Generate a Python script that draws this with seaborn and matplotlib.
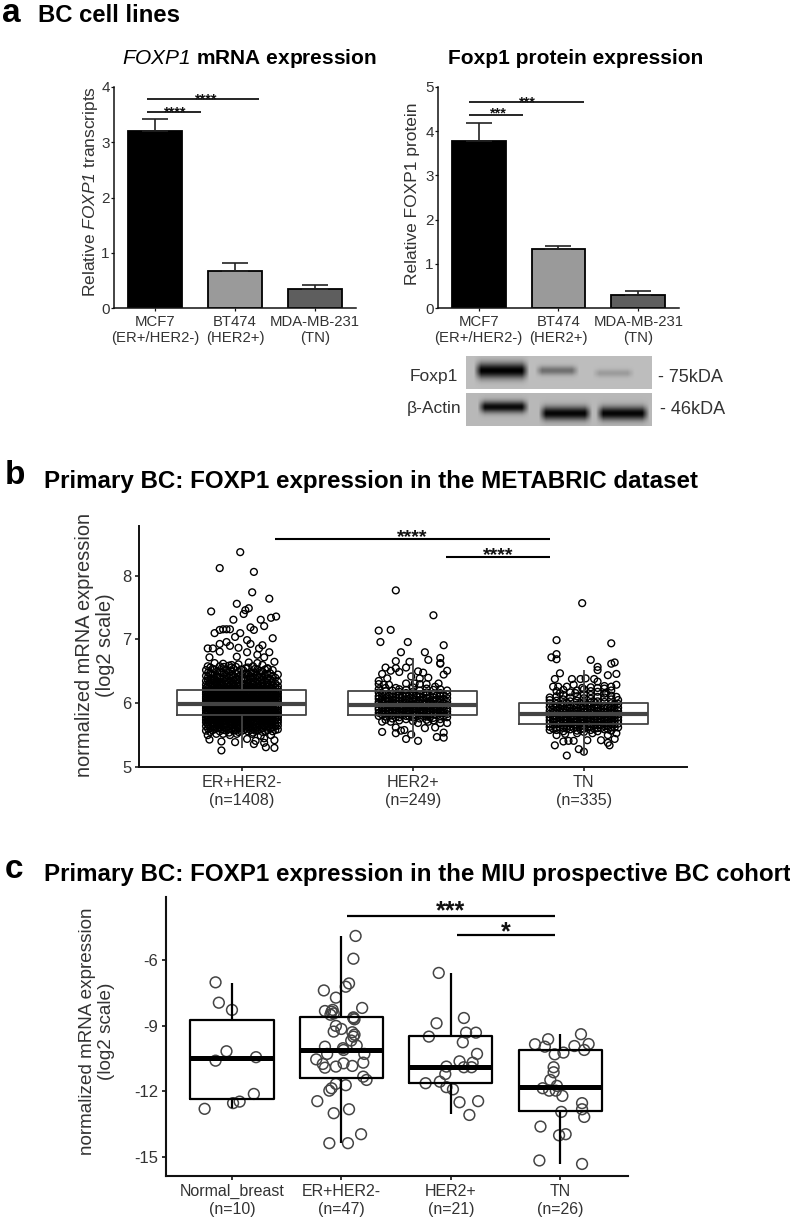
import numpy as np
import pandas as pd
import matplotlib
matplotlib.use("Agg")
import matplotlib.pyplot as plt
import seaborn as sns

sns.set_theme(style="ticks")
plt.rcParams['font.family'] = ['Liberation Sans', 'DejaVu Sans']
plt.rcParams['mathtext.fontset'] = 'custom'
plt.rcParams['mathtext.rm'] = 'Liberation Sans:italic'
plt.rcParams['mathtext.it'] = 'Liberation Sans:italic'
plt.rcParams['mathtext.bf'] = 'Liberation Sans:bold'

# ---------- panel a data ----------
line_cats = ["MCF7\n(ER+/HER2-)", "BT474\n(HER2+)", "MDA-MB-231\n(TN)"]
mrna_mean = [3.20, 0.67, 0.34]
mrna_err = [0.22, 0.15, 0.08]
prot_mean = [3.78, 1.34, 0.30]
prot_err = [0.40, 0.06, 0.08]
bar_colors = ["#000000", "#9a9a9a", "#5e5e5e"]

# ---------- panel b data ----------
b_groups = ["ER+HER2-", "HER2+", "TN"]
b_labels = ["ER+HER2-\n(n=1408)", "HER2+\n(n=249)", "TN\n(n=335)"]
b_box_er = [5.30, 5.82, 5.995, 6.20, 6.57]
b_box_her2 = [5.45, 5.81, 5.98, 6.19, 6.71]
b_box_tn = [5.19, 5.68, 5.83, 6.01, 6.52]

b_er_off = [-.01,-.13,.07,.06,.16,-.03,.04,-.18,.02,.01,-.05,.11,.17,.20,.13,.05,.07,-.16,-.13,-.11,-.09,-.07,-.01,-.04,.18,
            .03,.05,.12,-.09,-.13,-.20,-.07,-.02,.10,.16,-.17,.03,-.13,.09,-.19,-.03,.13,.19,-.20,-.16,-.11,-.06,.04,.09,.15,
            -.12,.19,.14,-.04,-.12,.07,-.19,.19,.13,.08,.03,-.20,-.07,.13,-.15,-.11,-.03,.06,.17,.11]
b_er_val = [8.37,8.12,8.06,7.74,7.64,7.56,7.49,7.44,7.46,7.40,7.31,7.31,7.34,7.36,7.21,7.19,7.15,7.10,7.15,7.16,7.16,7.16,7.10,7.04,7.02,
            6.99,6.93,6.91,6.96,6.93,6.86,6.90,6.87,6.86,6.80,6.86,6.80,6.81,6.76,6.72,6.73,6.72,6.65,6.58,6.63,6.62,6.60,6.64,6.63,6.55,
            5.26,5.30,5.31,5.39,5.40,5.36,5.43,5.42,5.38,5.41,5.44,5.50,5.50,5.45,5.52,5.52,5.52,5.52,5.50,5.49]
# dense core of the ER+HER2- cloud, estimated by vertical strip
er_strip_off = [-.21,-.185,-.16,-.13,-.105,-.075,-.05,-.02,.01,.035,.065,.09,.12,.15,.18,.21]
er_strip_val = [
 [5.57,5.64,5.70,5.74,5.78,5.82,5.85,5.89,5.92,5.95,5.98,6.01,6.04,6.07,6.10,6.14,6.17,6.20,6.24,6.29,6.35,6.43,6.52],
 [5.55,5.61,5.67,5.72,5.76,5.80,5.83,5.87,5.90,5.94,5.97,6.00,6.03,6.06,6.09,6.12,6.15,6.19,6.22,6.27,6.33,6.38,6.47,6.56],
 [5.59,5.65,5.69,5.73,5.77,5.81,5.84,5.88,5.91,5.93,5.96,5.99,6.02,6.05,6.08,6.11,6.14,6.18,6.21,6.25,6.30,6.37,6.44,6.53],
 [5.56,5.62,5.68,5.71,5.75,5.79,5.82,5.86,5.89,5.92,5.95,5.98,6.01,6.04,6.07,6.10,6.13,6.16,6.20,6.24,6.28,6.34,6.41,6.50,6.58],
 [5.58,5.63,5.66,5.72,5.76,5.80,5.84,5.87,5.90,5.93,5.97,6.00,6.03,6.06,6.09,6.12,6.15,6.18,6.22,6.26,6.31,6.39,6.46,6.57],
 [5.54,5.60,5.67,5.70,5.74,5.78,5.81,5.85,5.88,5.91,5.94,5.97,6.00,6.02,6.05,6.08,6.11,6.15,6.19,6.23,6.27,6.32,6.40,6.48,6.59],
 [5.57,5.63,5.69,5.73,5.77,5.80,5.83,5.86,5.89,5.92,5.96,5.99,6.02,6.05,6.07,6.10,6.13,6.17,6.21,6.25,6.30,6.36,6.43,6.54],
 [5.55,5.61,5.66,5.71,5.75,5.79,5.82,5.85,5.88,5.91,5.94,5.97,6.00,6.03,6.06,6.09,6.12,6.16,6.20,6.26,6.33,6.42,6.49,6.61],
 [5.58,5.64,5.68,5.72,5.76,5.80,5.84,5.87,5.90,5.93,5.95,5.98,6.01,6.04,6.08,6.11,6.14,6.18,6.22,6.28,6.35,6.40,6.51],
 [5.56,5.62,5.67,5.71,5.74,5.78,5.81,5.85,5.88,5.92,5.95,5.99,6.02,6.05,6.08,6.12,6.15,6.19,6.23,6.27,6.32,6.38,6.45,6.56],
 [5.54,5.60,5.65,5.70,5.75,5.79,5.83,5.86,5.89,5.93,5.96,5.99,6.03,6.06,6.09,6.13,6.16,6.20,6.24,6.29,6.34,6.41,6.47,6.58],
 [5.57,5.63,5.69,5.73,5.77,5.80,5.84,5.87,5.91,5.94,5.97,6.00,6.04,6.07,6.10,6.13,6.17,6.21,6.25,6.30,6.36,6.44,6.53],
 [5.55,5.61,5.66,5.72,5.76,5.79,5.82,5.86,5.90,5.93,5.96,6.00,6.02,6.05,6.08,6.11,6.14,6.18,6.22,6.26,6.31,6.37,6.42,6.50,6.60],
 [5.58,5.64,5.68,5.71,5.75,5.78,5.82,5.85,5.88,5.91,5.94,5.98,6.01,6.04,6.07,6.10,6.14,6.17,6.21,6.26,6.32,6.39,6.46,6.54],
 [5.56,5.62,5.67,5.72,5.76,5.80,5.83,5.87,5.90,5.93,5.97,6.00,6.03,6.06,6.09,6.12,6.16,6.19,6.23,6.28,6.35,6.43,6.52],
 [5.59,5.65,5.70,5.74,5.78,5.81,5.85,5.88,5.92,5.95,5.98,6.02,6.05,6.08,6.11,6.15,6.18,6.22,6.27,6.34,6.45],
]
er_fill_off = [-.198,-.172,-.145,-.118,-.09,-.062,-.035,-.005,.022,.05,.078,.105,.135,.165,.195]
er_fill_val = [
 [5.60,5.66,5.71,5.75,5.79,5.84,5.88,5.93,5.96,6.00,6.05,6.09,6.13,6.18,6.23,6.28,6.36,6.41,6.48],
 [5.58,5.63,5.69,5.74,5.78,5.83,5.86,5.91,5.95,5.99,6.02,6.07,6.11,6.16,6.20,6.26,6.31,6.39,6.45,6.54],
 [5.61,5.67,5.72,5.76,5.80,5.85,5.89,5.92,5.97,6.01,6.06,6.10,6.15,6.19,6.24,6.29,6.34,6.42,6.50],
 [5.59,5.64,5.70,5.75,5.79,5.83,5.87,5.92,5.96,6.00,6.03,6.08,6.12,6.17,6.21,6.27,6.33,6.38,6.47,6.55],
 [5.57,5.62,5.68,5.73,5.77,5.82,5.86,5.90,5.94,5.98,6.04,6.08,6.13,6.18,6.23,6.30,6.36,6.44,6.52],
 [5.60,5.66,5.71,5.76,5.80,5.84,5.87,5.91,5.96,6.00,6.04,6.09,6.14,6.17,6.22,6.28,6.35,6.43,6.50,6.56],
 [5.58,5.64,5.69,5.74,5.78,5.81,5.85,5.90,5.93,5.97,6.01,6.06,6.11,6.15,6.19,6.24,6.31,6.37,6.46,6.57],
 [5.56,5.62,5.68,5.73,5.77,5.83,5.87,5.92,5.96,5.99,6.04,6.08,6.12,6.17,6.23,6.29,6.37,6.45,6.53],
 [5.60,5.65,5.70,5.74,5.78,5.82,5.86,5.90,5.94,5.97,6.02,6.07,6.10,6.16,6.20,6.25,6.30,6.39,6.46,6.55],
 [5.58,5.63,5.69,5.73,5.77,5.81,5.85,5.90,5.93,5.97,6.01,6.04,6.10,6.14,6.18,6.22,6.27,6.33,6.42,6.49],
 [5.57,5.62,5.67,5.72,5.78,5.82,5.85,5.89,5.94,5.98,6.03,6.07,6.11,6.15,6.19,6.25,6.32,6.40,6.48,6.54],
 [5.59,5.65,5.71,5.75,5.79,5.83,5.88,5.92,5.95,5.99,6.03,6.08,6.12,6.16,6.21,6.28,6.35,6.41,6.51],
 [5.56,5.63,5.68,5.74,5.78,5.81,5.84,5.89,5.92,5.98,6.02,6.06,6.11,6.15,6.20,6.24,6.29,6.36,6.44,6.53],
 [5.60,5.66,5.70,5.73,5.77,5.82,5.86,5.91,5.95,5.99,6.03,6.08,6.13,6.18,6.24,6.30,6.38,6.47],
 [5.58,5.64,5.69,5.75,5.80,5.84,5.89,5.93,5.97,6.01,6.05,6.09,6.14,6.19,6.25,6.31,6.40],
]

b_her2_off = [-.10,.12,-.20,-.13,-.19,-.03,.18,-.07,.07,.16,.09,-.10,.16,.16,-.02,.20,-.16,-.04,-.10,-.13,-.08,.18,-.18,.03,.06,-.15,.09,-.01,.04,-.20,-.17,-.14,.15,-.04,.08,.04,.01,.13,-.20,-.10,
              .03,-.04,-.18,.14,.18,.18,-.10,-.07,-.05,-.01,-.10,.07,.13,.09,-.18,-.13,.03,.20,.16]
b_her2_val = [7.77,7.38,7.14,7.15,6.96,6.96,6.91,6.80,6.80,6.71,6.68,6.66,6.63,6.62,6.65,6.51,6.56,6.56,6.55,6.51,6.49,6.45,6.46,6.50,6.48,6.39,6.40,6.42,6.39,6.35,6.29,6.29,6.31,6.31,6.30,6.30,6.31,6.26,6.30,6.24,
              5.41,5.44,5.55,5.47,5.46,5.54,5.53,5.57,5.58,5.51,5.62,5.61,5.62,5.71,5.71,5.71,5.69,5.69,5.69]
her2_strip_off = [-.20,-.16,-.12,-.08,-.04,.0,.04,.08,.12,.16,.20,-.18,-.14,-.10,-.06,-.02,.02,.06,.10,.14,.18]
her2_strip_val = [
 [5.80,5.85,5.90,5.93,5.99,6.02,6.07,6.11,6.17,6.22],
 [5.74,5.79,5.84,5.88,5.92,5.96,6.03,6.08,6.13,6.19,6.24],
 [5.76,5.81,5.86,5.89,5.94,5.97,6.00,6.05,6.10,6.15,6.20],
 [5.73,5.78,5.83,5.87,5.91,5.95,5.99,6.04,6.09,6.13,6.18,6.22],
 [5.75,5.80,5.85,5.88,5.92,5.97,6.01,6.06,6.11,6.16,6.21],
 [5.72,5.78,5.82,5.86,5.90,5.94,5.98,6.03,6.07,6.12,6.18,6.25],
 [5.76,5.81,5.84,5.89,5.93,5.96,6.00,6.05,6.10,6.14,6.20],
 [5.74,5.79,5.83,5.87,5.91,5.95,5.99,6.02,6.08,6.13,6.17,6.23],
 [5.73,5.77,5.82,5.86,5.90,5.94,5.98,6.04,6.09,6.15,6.21],
 [5.75,5.80,5.85,5.88,5.92,5.96,6.01,6.06,6.11,6.16,6.22],
 [5.78,5.83,5.87,5.91,5.97,6.02,6.08,6.14,6.20],
 [5.82,5.87,5.92,5.96,6.01,6.05,6.10,6.15],
 [5.80,5.84,5.88,5.93,5.98,6.03,6.07,6.12],
 [5.78,5.83,5.89,5.94,5.99,6.04,6.09,6.14],
 [5.81,5.85,5.90,5.95,6.00,6.05,6.11],
 [5.79,5.84,5.88,5.93,5.97,6.02,6.08,6.13],
 [5.82,5.86,5.91,5.95,6.00,6.06,6.12],
 [5.80,5.85,5.89,5.94,5.98,6.04,6.09,6.15],
 [5.78,5.83,5.87,5.92,5.97,6.03,6.10],
 [5.81,5.86,5.90,5.94,5.99,6.05,6.12],
 [5.80,5.85,5.90,5.95,6.00,6.06,6.13],
]

b_tn_off = [-.01,-.16,.16,-.16,-.19,-.16,.04,.16,.18,.08,.08,-.14,.19,.14,-.17,-.07,-.02,.01,.06,.08,.19,.12,-.18,-.10,-.06,-.15,.16,-.01,.04,.08,-.20,.19,-.14,-.05,.13,
            -.10,.0,-.03,-.17,.15,.14,-.12,-.09,-.06,.18,.02,.10,-.20,.19,-.16,-.11,-.04,.05,.14]
b_tn_val = [7.57,6.99,6.94,6.77,6.72,6.69,6.68,6.62,6.64,6.57,6.52,6.47,6.46,6.44,6.38,6.38,6.38,6.39,6.38,6.34,6.29,6.27,6.26,6.26,6.29,6.26,6.26,6.24,6.25,6.24,6.09,6.10,6.16,6.16,6.16,
            5.18,5.24,5.28,5.34,5.34,5.38,5.40,5.41,5.41,5.44,5.42,5.42,5.58,5.53,5.50,5.52,5.53,5.53,5.50]
tn_strip_off = [-.20,-.16,-.12,-.08,-.04,.0,.04,.08,.12,.16,.20,-.18,-.14,-.10,-.06,-.02,.02,.06,.10,.14,.18]
tn_strip_val = [
 [5.63,5.68,5.73,5.78,5.83,5.88,5.94,6.00,6.05],
 [5.58,5.62,5.67,5.71,5.76,5.80,5.84,5.89,5.94,5.99,6.04,6.11,6.19],
 [5.56,5.61,5.65,5.70,5.74,5.78,5.82,5.86,5.90,5.95,6.00,6.06,6.13,6.21],
 [5.59,5.63,5.68,5.72,5.76,5.80,5.84,5.87,5.92,5.97,6.03,6.09,6.17],
 [5.57,5.62,5.66,5.71,5.75,5.79,5.83,5.88,5.93,5.98,6.04,6.11,6.20],
 [5.55,5.60,5.65,5.69,5.74,5.78,5.82,5.86,5.91,5.96,6.02,6.08,6.14,6.22],
 [5.58,5.63,5.67,5.72,5.76,5.81,5.85,5.90,5.95,6.01,6.07,6.13,6.19],
 [5.56,5.61,5.66,5.70,5.75,5.79,5.83,5.88,5.92,5.97,6.03,6.10,6.18],
 [5.59,5.64,5.68,5.73,5.77,5.82,5.86,5.91,5.96,6.02,6.09,6.15,6.23],
 [5.57,5.62,5.67,5.71,5.76,5.80,5.84,5.89,5.94,6.00,6.06,6.12,6.20],
 [5.62,5.68,5.73,5.78,5.83,5.88,5.93,5.99,6.05],
 [5.60,5.66,5.71,5.75,5.80,5.85,5.90,5.96],
 [5.62,5.68,5.72,5.77,5.82,5.87,5.92,5.98],
 [5.60,5.64,5.69,5.74,5.79,5.83,5.89,5.95,6.01],
 [5.61,5.66,5.70,5.75,5.80,5.85,5.90,5.96],
 [5.59,5.64,5.69,5.73,5.78,5.83,5.88,5.94,6.00],
 [5.62,5.67,5.71,5.76,5.81,5.86,5.91,5.97],
 [5.60,5.65,5.70,5.74,5.79,5.84,5.89,5.95,6.02],
 [5.61,5.66,5.71,5.75,5.80,5.85,5.90,5.96],
 [5.59,5.64,5.69,5.74,5.79,5.83,5.88,5.94],
 [5.62,5.67,5.72,5.77,5.82,5.87,5.93,5.99],
]

# ---------- panel c data ----------
c_labels = ["Normal_breast\n(n=10)", "ER+HER2-\n(n=47)", "HER2+\n(n=21)", "TN\n(n=26)"]
c_box_normal = [-12.75, -12.36, -10.49, -8.74, -7.03]
c_box_er = [-14.37, -11.39, -10.11, -8.59, -4.90]
c_box_her2 = [-13.05, -11.63, -10.87, -9.47, -6.61]
c_box_tn = [-15.32, -12.90, -11.80, -10.12, -9.39]

c_normal_off = [-.15,-.12,.0,-.05,-.15,.22,.20,.07,.01,-.25]
c_normal_val = [-7.02,-7.95,-8.28,-10.17,-10.60,-10.44,-12.12,-12.47,-12.54,-12.80]
c_er_off = [.13,.11,.07,.04,-.16,-.05,.19,-.15,-.09,-.10,-.07,.11,.11,-.05,.0,-.07,.10,.12,.11,.09,.14,-.15,.02,.015,
            -.13,.21,-.23,.20,-.17,.02,-.15,-.05,.10,.20,.23,-.05,.04,-.09,-.11,-.22,.07,-.07,.18,-.11,.06,-.08,.12]
c_er_val = [-4.90,-5.94,-7.07,-7.22,-7.39,-7.72,-8.19,-8.33,-8.36,-8.50,-8.44,-8.66,-8.62,-9.01,-9.15,-9.27,-9.30,-9.41,-9.50,-9.68,-9.91,-9.96,-10.11,-10.03,
            -10.29,-10.29,-10.54,-10.69,-10.75,-10.72,-10.92,-10.87,-10.84,-11.33,-11.48,-11.66,-11.72,-11.86,-11.97,-12.45,-12.82,-13.00,-13.96,-14.37,-14.37,-8.28,-8.71]
c_her2_off = [-.11,.12,-.13,.14,.23,-.20,.11,.24,.08,.20,-.04,.12,.19,-.05,-.23,-.10,-.04,.02,.08,.25,.17]
c_her2_val = [-6.59,-8.65,-8.89,-9.32,-9.32,-9.50,-9.76,-10.29,-10.63,-10.69,-10.87,-10.90,-10.90,-11.21,-11.63,-11.56,-11.81,-11.91,-12.50,-12.45,-13.08]
c_tn_off = [-.23,-.11,-.14,.19,.13,.26,.22,-.05,.03,-.06,-.06,-.09,-.03,-.16,-.10,-.04,.02,.20,.20,.01,.22,-.18,-.01,.05,-.19,.20]
c_tn_val = [-9.85,-9.62,-9.96,-9.39,-9.93,-9.84,-10.11,-10.31,-10.23,-10.90,-11.13,-11.48,-11.75,-11.86,-11.97,-11.97,-12.21,-12.54,-12.82,-12.94,-13.17,-13.61,-14.01,-13.96,-15.16,-15.32]

# ---------- western blot band description (centre x, half width, centre y, half height, darkness) ----------
blot_foxp1 = [(0.19, 0.15, 0.44, 0.24, 0.74), (0.49, 0.12, 0.44, 0.14, 0.30), (0.795, 0.115, 0.52, 0.12, 0.13)]
blot_actin = [(0.20, 0.14, 0.42, 0.18, 0.68), (0.535, 0.145, 0.62, 0.21, 0.70), (0.845, 0.145, 0.62, 0.21, 0.70)]

W, H = 790, 1219
fig = plt.figure(figsize=(W / 100, H / 100), dpi=100)
GREY = "#333333"


def axpx(l, t, r, b):
    return fig.add_axes([l / W, 1 - b / H, (r - l) / W, (b - t) / H])


def txt(x, y, s, **kw):
    kw.setdefault("ha", "left")
    kw.setdefault("va", "center")
    return fig.text(x / W, 1 - y / H, s, **kw)


def style(ax, lw, tick_size, xsize, ysize, pad=2.5, spacing=1.25):
    sns.despine(ax=ax)
    for k in ("left", "bottom"):
        ax.spines[k].set_linewidth(lw)
        ax.spines[k].set_color("#111111")
    ax.tick_params(axis="both", length=tick_size, width=lw * 0.8, color="#111111", pad=pad)
    ax.tick_params(axis="x", labelsize=xsize, labelcolor=GREY)
    ax.tick_params(axis="y", labelsize=ysize, labelcolor=GREY)
    ax.set_xlabel("")
    for t in ax.get_xticklabels():
        t.set_linespacing(spacing)


def bars(ax, vals, errs, ymax, yticks, ylabel, ylab_x, ylab_y):
    frame = pd.DataFrame({"cat": line_cats, "val": vals})
    sns.barplot(data=frame, x="cat", y="val", hue="cat", palette=bar_colors, legend=False,
                width=0.675, edgecolor="black", linewidth=1.3, ax=ax, errorbar=None, saturation=1)
    ax.errorbar(range(3), vals, yerr=[np.zeros(3), errs], fmt="none", ecolor="#222222",
                elinewidth=1.2, capsize=9.5, capthick=1.2, zorder=1)
    ax.set_xlim(-0.51, 2.51)
    ax.set_ylim(0, ymax)
    ax.set_yticks(yticks)
    ax.set_ylabel(ylabel, fontsize=12.5, color=GREY, va="center", ha="center")
    ax.yaxis.set_label_coords(ylab_x / W, 1 - ylab_y / H, transform=fig.transFigure)
    style(ax, 1.1, 2, 10.7, 11, pad=1, spacing=1.2)
    for lab in ax.get_xticklabels():
        lab.set_y(lab.get_position()[1] - 0.012)


def sig(ax, x0, x1, y, lw=1.2):
    ax.plot([x0, x1], [y, y], color="black", lw=lw, solid_capstyle="butt", clip_on=False)


def stars(ax, x, y, s, size):
    ax.text(x, y, s, fontsize=size, fontweight="bold", ha="center", va="baseline", color="#111111")


# ---------- panel a ----------
ax1 = axpx(114, 87, 356, 308)
bars(ax1, mrna_mean, mrna_err, 4, [0, 1, 2, 3, 4], r"Relative $\mathrm{FOXP1}$ transcripts", 90, 192)
sig(ax1, -0.10, 1.30, 3.78)
sig(ax1, -0.10, 0.575, 3.55)
stars(ax1, 0.64, 3.71, "****", 10.4)
stars(ax1, 0.26, 3.475, "****", 10.4)

ax2 = axpx(438, 87, 679, 308)
bars(ax2, prot_mean, prot_err, 5, [0, 1, 2, 3, 4, 5], "Relative FOXP1 protein", 413, 194)
sig(ax2, -0.125, 1.325, 4.66)
sig(ax2, -0.125, 0.56, 4.37)
stars(ax2, 0.61, 4.57, "***", 10.4)
stars(ax2, 0.25, 4.30, "***", 10.4)


def blot(l, t, r, b, bands, base):
    ax = axpx(l, t, r, b)
    xx, yy = np.meshgrid(np.linspace(0, 1, r - l), np.linspace(0, 1, b - t))
    img = np.full(xx.shape, base)
    for cx, hw, cy, hh, dark in bands:
        fx = np.clip((hw - np.abs(xx - cx)) / 0.04, 0, 1)
        fy = np.exp(-((yy - cy) / hh) ** 2)
        img = img - dark * fx * fy
    ax.imshow(np.clip(img, 0, 1), cmap="gray", vmin=0, vmax=1, aspect="auto", interpolation="bilinear")
    ax.set_axis_off()


blot(466, 356, 652, 389, blot_foxp1, 0.74)
blot(466, 393, 652, 426, blot_actin, 0.72)
txt(410, 377, "Foxp1", fontsize=12.5, color=GREY)
txt(407, 409, "β-Actin", fontsize=12.5, color=GREY)
txt(658, 377, "- 75kDA", fontsize=13, color=GREY)
txt(660, 409, "- 46kDA", fontsize=13, color=GREY)

txt(2, 14, "a", fontsize=24, fontweight="bold", color="black")
txt(38, 16, "BC cell lines", fontsize=17.2, fontweight="bold", color="black")
txt(122, 59, r"$\mathrm{FOXP1}$ $\bf{mRNA\ expression}$", fontsize=15.0, color="black")
txt(448, 59, "Foxp1 protein expression", fontsize=15.0, fontweight="bold", color="black")


def long_points(names, offs, vals):
    return pd.DataFrame({"x": [n + o for n, o in zip(names, offs)], "y": vals})


def strips(idx, offs, rows):
    xs, ys = [], []
    for o, row in zip(offs, rows):
        xs += [idx + o] * len(row)
        ys += list(row)
    return pd.DataFrame({"x": xs, "y": ys})


def boxes(ax, names, stats, color, lw, median_lw, width):
    frame = pd.DataFrame({"g": np.repeat(names, 5), "v": np.concatenate(stats)})
    sns.boxplot(data=frame, x="g", y="v", order=names, width=width, whis=1000, fill=False, color=color,
                linewidth=lw, showcaps=False, fliersize=0, medianprops={"linewidth": median_lw}, ax=ax)
    for line in ax.lines:
        line.set_zorder(4)
    for p in ax.patches:
        p.set_zorder(4)


# ---------- panel b ----------
ax3 = axpx(139, 526, 687, 767)
pts_b = pd.concat([
    long_points([0] * len(b_er_off), b_er_off, b_er_val), strips(0, er_strip_off, er_strip_val),
    strips(0, er_fill_off, er_fill_val),
    long_points([1] * len(b_her2_off), b_her2_off, b_her2_val), strips(1, her2_strip_off, her2_strip_val),
    long_points([2] * len(b_tn_off), b_tn_off, b_tn_val), strips(2, tn_strip_off, tn_strip_val)])
boxes(ax3, b_groups, [b_box_er, b_box_her2, b_box_tn], "#444444", 1.3, 3.0, 0.755)
sns.scatterplot(data=pts_b, x="x", y="y", s=24, facecolor="none", edgecolor="black", linewidth=1.0, ax=ax3,
                zorder=2, clip_on=False)
ax3.set_xlim(-0.602, 2.603)
ax3.set_ylim(5, 8.78)
ax3.set_yticks([5, 6, 7, 8])
ax3.set_xticks([0, 1, 2])
ax3.set_xticklabels(b_labels)
ax3.set_ylabel("normalized mRNA expression\n(log2 scale)", fontsize=14.4, color=GREY, va="center", ha="center",
               linespacing=1.1)
ax3.yaxis.set_label_coords(95 / W, 1 - 645 / H, transform=fig.transFigure)
style(ax3, 1.4, 3, 11.6, 12)
sig(ax3, 0.193, 1.80, 8.58, 1.5)
sig(ax3, 1.196, 1.80, 8.30, 1.5)
stars(ax3, 0.994, 8.52, "****", 14)
stars(ax3, 1.50, 8.25, "****", 14)

txt(5, 476, "b", fontsize=24, fontweight="bold", color="black")
txt(44, 481, "Primary BC: FOXP1 expression in the METABRIC dataset", fontsize=17.4, fontweight="bold", color="black")

# ---------- panel c ----------
ax4 = axpx(166, 897, 628, 1176)
pts_c = pd.concat([
    long_points([0] * len(c_normal_off), c_normal_off, c_normal_val),
    long_points([1] * len(c_er_off), c_er_off, c_er_val),
    long_points([2] * len(c_her2_off), c_her2_off, c_her2_val),
    long_points([3] * len(c_tn_off), c_tn_off, c_tn_val)])
c_names = [s.split("\n")[0] for s in c_labels]
boxes(ax4, c_names, [c_box_normal, c_box_er, c_box_her2, c_box_tn], "black", 1.6, 3.6, 0.76)
sns.scatterplot(data=pts_c, x="x", y="y", s=60, facecolor="none", edgecolor="#444444", linewidth=1.1, ax=ax4, zorder=2)
ax4.set_xlim(-0.603, 3.62)
ax4.set_ylim(-15.87, -3.12)
ax4.set_yticks([-15, -12, -9, -6])
ax4.set_yticklabels(["-15", "-12", "-9", "-6"])
ax4.set_xticks([0, 1, 2, 3])
ax4.set_xticklabels(c_labels)
ax4.set_ylabel("normalized mRNA expression\n(log2 scale)", fontsize=13.6, color=GREY, va="center", ha="center",
               linespacing=1.1)
ax4.yaxis.set_label_coords(97 / W, 1 - 1031 / H, transform=fig.transFigure)
style(ax4, 1.5, 3, 11.5, 12)
sig(ax4, 1.05, 2.95, -3.99, 1.6)
sig(ax4, 2.06, 2.95, -4.86, 1.6)
stars(ax4, 2.0, -4.08, "***", 18)
stars(ax4, 2.504, -5.04, "*", 18)

txt(5, 869, "c", fontsize=24, fontweight="bold", color="black")
txt(44, 875, "Primary BC: FOXP1 expression in the MIU prospective BC cohort", fontsize=17.4, fontweight="bold", color="black")

fig.savefig("out.png", dpi=100)
